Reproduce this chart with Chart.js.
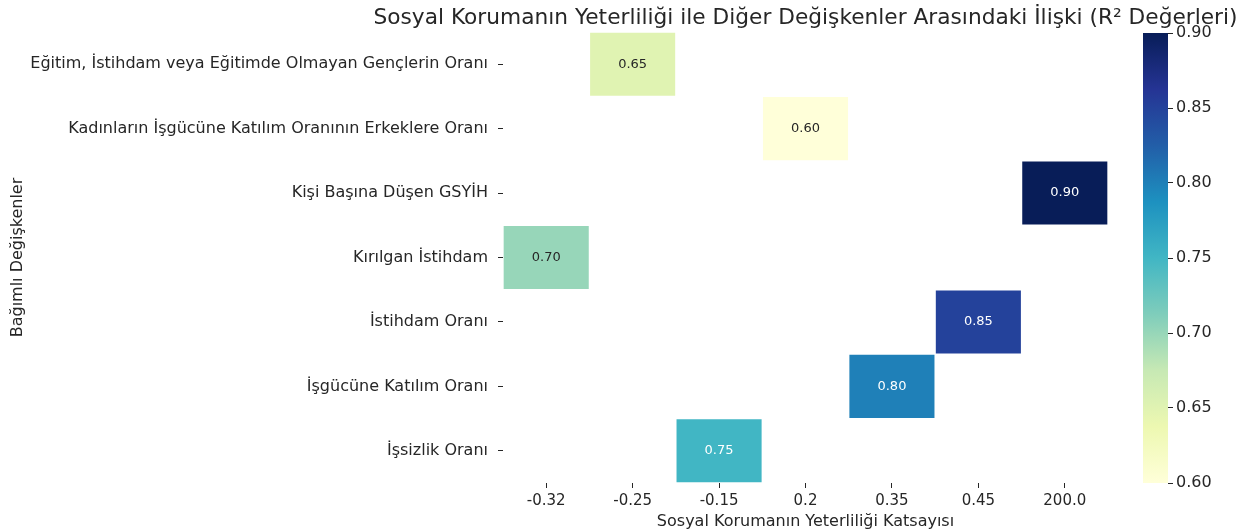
<!DOCTYPE html>
<html>
<head>
<meta charset="utf-8">
<script src="https://cdn.jsdelivr.net/npm/chart.js@4/dist/chart.umd.min.js"></script>
<style>
  html, body { margin: 0; padding: 0; background: #ffffff; }
  #wrap { position: relative; width: 1259px; height: 531px; }
  #heat { position: absolute; left: 0; top: 0; }
  #cbar { position: absolute; left: 1143px; top: 0; }
</style>
</head>
<body>
<div id="wrap">
  <canvas id="heat" width="1259" height="531"></canvas>
  <canvas id="cbar" width="116" height="531"></canvas>
</div>
<script>
// Heatmap columns: social protection adequacy coefficient
const columns = ['-0.32', '-0.25', '-0.15', '0.2', '0.35', '0.45', '200.0'];
// Dependent variables (rows, top to bottom)
const rows = [
  'Eğitim, İstihdam veya Eğitimde Olmayan Gençlerin Oranı',
  'Kadınların İşgücüne Katılım Oranının Erkeklere Oranı',
  'Kişi Başına Düşen GSYİH',
  'Kırılgan İstihdam',
  'İstihdam Oranı',
  'İşgücüne Katılım Oranı',
  'İşsizlik Oranı'
];
// Column in which each row's cell sits
const rowColumn = ['-0.25', '0.2', '200.0', '-0.32', '0.45', '0.35', '-0.15'];
// R² value for each row
const rSquared = [0.65, 0.60, 0.90, 0.70, 0.85, 0.80, 0.75];
// Colour bar range and ticks
const vMin = 0.60, vMax = 0.90;
const colorbarTicks = [0.60, 0.65, 0.70, 0.75, 0.80, 0.85, 0.90];

const TEXT = '#262626';
const FONT = 'DejaVu Sans';

// YlGnBu colour map stops
const ylgnbu = ['#ffffd9', '#edf8b1', '#c7e9b4', '#7fcdbb', '#41b6c4', '#1d91c0', '#225ea8', '#253494', '#081d58'];
function hexToRgb(h) {
  return [parseInt(h.slice(1, 3), 16), parseInt(h.slice(3, 5), 16), parseInt(h.slice(5, 7), 16)];
}
function colormap(v) {
  let t = (v - vMin) / (vMax - vMin);
  t = Math.max(0, Math.min(1, t));
  const pos = t * (ylgnbu.length - 1);
  const i = Math.min(Math.floor(pos), ylgnbu.length - 2);
  const f = pos - i;
  const a = hexToRgb(ylgnbu[i]), b = hexToRgb(ylgnbu[i + 1]);
  const c = a.map((x, k) => Math.round(x + (b[k] - x) * f));
  return `rgb(${c[0]},${c[1]},${c[2]})`;
}
function textColorFor(v) {
  return v >= 0.745 ? '#ffffff' : TEXT;
}

const cells = rows.map((r, i) => ({ x: rowColumn[i], y: [i, i + 1], v: rSquared[i] }));

// Draws the R² value in the middle of each cell
const cellLabels = {
  id: 'cellLabels',
  afterDatasetsDraw(chart) {
    const ctx = chart.ctx;
    const meta = chart.getDatasetMeta(0);
    ctx.save();
    ctx.font = `13px "${FONT}"`;
    ctx.textAlign = 'center';
    ctx.textBaseline = 'middle';
    meta.data.forEach((el, i) => {
      const d = cells[i];
      ctx.fillStyle = textColorFor(d.v);
      ctx.fillText(d.v.toFixed(2), el.x, (el.y + el.base) / 2);
    });
    ctx.restore();
  }
};

// Title centred over the plot area
const plotTitle = {
  id: 'plotTitle',
  afterDraw(chart) {
    const ctx = chart.ctx;
    const a = chart.chartArea;
    ctx.save();
    ctx.font = `22px "${FONT}"`;
    ctx.fillStyle = TEXT;
    ctx.textAlign = 'center';
    ctx.textBaseline = 'alphabetic';
    ctx.fillText('Sosyal Korumanın Yeterliliği ile Diğer Değişkenler Arasındaki İlişki (R² Değerleri)',
      (a.left + a.right) / 2, 24, 864);
    ctx.restore();
  }
};

new Chart(document.getElementById('heat'), {
  type: 'bar',
  data: {
    labels: columns,
    datasets: [{
      data: cells,
      parsing: { xAxisKey: 'x', yAxisKey: 'y' },
      backgroundColor: cells.map(c => colormap(c.v)),
      borderColor: 'rgba(255,255,255,0.35)',
      borderWidth: 1,
      borderSkipped: false,
      barPercentage: 1,
      categoryPercentage: 1
    }]
  },
  options: {
    responsive: false,
    animation: false,
    events: [],
    layout: { padding: { left: 0, right: 151, top: 32, bottom: 0 } },
    plugins: { legend: { display: false }, tooltip: { enabled: false }, title: { display: false } },
    scales: {
      x: {
        type: 'category',
        offset: true,
        grid: { display: true, drawOnChartArea: false, drawTicks: true, tickLength: 5, color: TEXT, lineWidth: 1, offset: false },
        border: { display: false },
        ticks: { color: TEXT, font: { family: FONT, size: 15 }, padding: 4, maxRotation: 0 },
        title: { display: true, text: 'Sosyal Korumanın Yeterliliği Katsayısı', color: TEXT, font: { family: FONT, size: 16 }, padding: { top: 1, bottom: 0 } },
        afterFit(scale) { scale.height = 48; }
      },
      y: {
        type: 'linear',
        reverse: true,
        min: 0,
        max: rows.length,
        grid: { display: true, drawOnChartArea: false, drawTicks: true, tickLength: 5, color: TEXT, lineWidth: 1 },
        border: { display: false },
        afterBuildTicks(scale) {
          scale.ticks = rows.map((_, i) => ({ value: i + 0.5 }));
        },
        ticks: {
          autoSkip: false,
          color: TEXT,
          font: { family: FONT, size: 16 },
          padding: 10,
          callback: (value, index) => rows[index]
        },
        title: { display: true, text: 'Bağımlı Değişkenler', color: TEXT, font: { family: FONT, size: 16 }, padding: { top: 8, bottom: 0 } },
        afterFit(scale) { scale.width = 503; }
      }
    }
  },
  plugins: [cellLabels, plotTitle]
});

// Colour bar
new Chart(document.getElementById('cbar'), {
  type: 'bar',
  data: {
    labels: [''],
    datasets: [{
      data: [[vMin, vMax]],
      backgroundColor(ctx) {
        const area = ctx.chart.chartArea;
        if (!area) return ylgnbu[4];
        const g = ctx.chart.ctx.createLinearGradient(0, area.bottom, 0, area.top);
        ylgnbu.forEach((c, i) => g.addColorStop(i / (ylgnbu.length - 1), c));
        return g;
      },
      borderWidth: 0,
      barPercentage: 1,
      categoryPercentage: 1
    }]
  },
  options: {
    responsive: false,
    animation: false,
    events: [],
    layout: { padding: { left: 0, right: 0, top: 33, bottom: 48 } },
    plugins: { legend: { display: false }, tooltip: { enabled: false } },
    scales: {
      x: { display: false },
      y: {
        position: 'right',
        min: vMin,
        max: vMax,
        afterBuildTicks(scale) {
          scale.ticks = colorbarTicks.map(v => ({ value: v }));
        },
        grid: { display: true, drawOnChartArea: false, drawTicks: true, tickLength: 5, color: TEXT, lineWidth: 1 },
        border: { display: false },
        ticks: {
          color: TEXT,
          font: { family: FONT, size: 16 },
          padding: 3,
          callback: v => Number(v).toFixed(2)
        },
        afterFit(scale) { scale.width = 91; }
      }
    }
  }
});
</script>
</body>
</html>
